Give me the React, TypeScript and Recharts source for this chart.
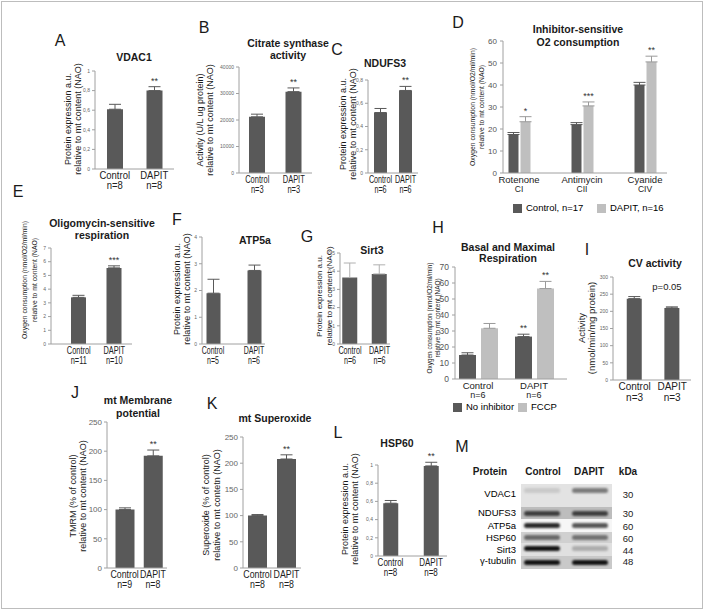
import React from 'react'
import { BarChart, Bar, XAxis, YAxis, ErrorBar, LabelList } from 'recharts'

const FONT = '"Liberation Sans", Arial, sans-serif'
const DARK = '#595959'
const LIGHT = '#bfbfbf'
const AXIS = '#a0a0a0'

const groups = ['Control', 'DAPIT']

// A - VDAC1
const vdacN = ['n=8', 'n=8']
const vdacMean = [0.61, 0.8]
const vdacErr = [0.05, 0.04]
const vdacSig = ['', '**']
// B - citrate synthase
const csN = ['n=3', 'n=3']
const csMean = [21200, 30700]
const csErr = [1000, 1400]
const csSig = ['', '**']
// C - NDUFS3
const ndN = ['n=6', 'n=6']
const ndMean = [0.52, 0.71]
const ndErr = [0.035, 0.035]
const ndSig = ['', '**']
// D - inhibitor-sensitive O2 consumption
const inhCats = ['Rotenone', 'Antimycin', 'Cyanide']
const inhSub = ['CI', 'CII', 'CIV']
const inhCtrl = [17.5, 22, 40]
const inhCtrlErr = [0.9, 0.9, 1.2]
const inhDapit = [23.3, 30.5, 50.5]
const inhDapitErr = [2.3, 1.8, 2.6]
const inhSig = ['*', '***', '**']
const inhLegend = ['Control, n=17', 'DAPIT, n=16']
// E - oligomycin-sensitive respiration
const oligoN = ['n=11', 'n=10']
const oligoMean = [3.4, 5.55]
const oligoErr = [0.15, 0.15]
const oligoSig = ['', '***']
// F - ATP5a
const atpN = ['n=5', 'n=6']
const atpMean = [1.9, 2.75]
const atpErr = [0.52, 0.2]
// G - Sirt3
const sirtN = ['n=6', 'n=6']
const sirtMean = [0.365, 0.385]
const sirtErr = [0.08, 0.05]
// H - basal and maximal respiration
const resN = ['n=6', 'n=6']
const resBasal = [15, 26.5]
const resBasalErr = [1.4, 1.5]
const resMax = [31.7, 56.5]
const resMaxErr = [3, 4.5]
const resBasalSig = ['', '**']
const resMaxSig = ['', '**']
const resLegend = ['No inhibitor', 'FCCP']
// I - CV activity
const cvN = ['n=3', 'n=3']
const cvMean = [237, 210]
const cvErr = [6, 3]
// J - TMRM
const tmrmN = ['n=9', 'n=8']
const tmrmMean = [100, 192]
const tmrmErr = [3, 10]
const tmrmSig = ['', '**']
// K - superoxide
const soxN = ['n=8', 'n=8']
const soxMean = [100, 208]
const soxErr = [2, 8]
const soxSig = ['', '**']
// L - HSP60
const hspN = ['n=8', 'n=8']
const hspMean = [0.58, 0.99]
const hspErr = [0.03, 0.04]
const hspSig = ['', '**']
// M - western blot
const blotProteins = ['VDAC1', 'NDUFS3', 'ATP5a', 'HSP60', 'Sirt3', 'γ-tubulin']
const blotKda = ['30', '30', '60', '60', '44', '48']
const blotCtrl = [0.12, 0.75, 0.9, 0.55, 1, 1]
const blotDapit = [0.5, 0.75, 0.7, 0.5, 0.25, 1]

// blot layout
const blotRowTop = [484, 507, 519, 532, 543, 556]
const blotRowH = [23, 12, 13, 11, 13, 13]
const blotRowBg = ['#e3e3e3', '#bdbdbd', '#f6f6f6', '#d0d0d0', '#e0e0e0', '#c9c9c9']
const blotBandY = [490, 513, 525, 537, 548, 562]
const blotLabelY = [494, 513, 526, 538, 550, 561]

const rng = (a: number, b: number, s: number) => {
  const out: number[] = []
  for (let v = a; v <= b + 1e-9; v += s) out.push(+v.toFixed(4))
  return out
}
const comma = (v: number) => (Number.isInteger(v) ? String(v) : v.toFixed(1).replace('.', ','))

type Row = { label: string; v: number; e: [number, number]; sig: string }
const mk = (ns: string[], mean: number[], err: number[], sig?: string[]): Row[] =>
  groups.map((g, i) => ({ label: `${g}\n${ns[i]}`, v: mean[i], e: [0, err[i]], sig: sig ? sig[i] : '' }))

// two-line category label, squeezed horizontally where the panel is narrow
// eslint-disable-next-line @typescript-eslint/no-explicit-any
const CatTick = ({ x, y, payload, fs = 9.5, fs2, sx = 1 }: any) => {
  const [a, b] = String(payload.value).split('\n')
  const f2 = fs2 ?? fs
  return (
    <g transform={`translate(${x},${y}) scale(${sx},1)`}>
      <text x={0} y={fs * 0.8} textAnchor="middle" fontSize={fs} fill="#222">{a}</text>
      <text x={0} y={fs * 0.8 + f2 * 1.05} textAnchor="middle" fontSize={f2} fill="#222">{b}</text>
    </g>
  )
}

// eslint-disable-next-line @typescript-eslint/no-explicit-any
const stars = (rows: any[], vKey: string, eKey: string, sKey: string) => (p: any) => {
  const r = rows[p.index]
  if (!r || !r[sKey]) return null
  const vb = p.viewBox ?? p
  const x = vb.x ?? p.x
  const y = vb.y ?? p.y
  const w = vb.width ?? p.width
  const h = vb.height ?? p.height
  const pxu = h / r[vKey]
  const top = y - r[eKey][1] * pxu
  return (
    <text x={x + w / 2} y={top - 3} textAnchor="middle" fontSize={9} fill="#333">{r[sKey]}</text>
  )
}

type PanelProps = {
  data: Row[]
  x0: number; x1: number; y0: number; y1: number
  padL?: number; padR?: number
  ticks: number[]
  fmt?: (v: number) => string
  tickFs: number
  barSize: number
  errColor?: string
  catFs?: number
  sx?: number
}

function Panel({ data, x0, x1, y0, y1, padL = 0, padR = 0, ticks, fmt, tickFs, barSize, errColor = DARK, catFs = 10, sx = 1 }: PanelProps) {
  const yW = 40, mTop = 24, xH = 30, mR = 2
  const W = yW + (x1 - x0) + mR
  const H = mTop + (y1 - y0) + xH
  return (
    <div style={{ position: 'absolute', left: x0 - yW, top: y0 - mTop }}>
      <BarChart width={W} height={H} data={data} margin={{ top: mTop, right: mR, bottom: 0, left: 0 }}>
        <XAxis dataKey="label" padding={{ left: padL, right: padR }} height={xH} tickLine={false}
          tickSize={0} tickMargin={2} axisLine={{ stroke: AXIS }} tick={<CatTick fs={catFs} sx={sx} />} interval={0} />
        <YAxis width={yW} domain={[ticks[0], ticks[ticks.length - 1]]} ticks={ticks} tickFormatter={fmt}
          allowDataOverflow interval={0} tickSize={3} tickMargin={2}
          tick={{ fontSize: tickFs, fill: '#666' }} axisLine={{ stroke: AXIS }} tickLine={{ stroke: AXIS }} />
        <Bar dataKey="v" fill={DARK} barSize={barSize} isAnimationActive={false}>
          <ErrorBar dataKey="e" width={6} stroke={errColor} strokeWidth={1} direction="y" />
          <LabelList dataKey="sig" content={stars(data, 'v', 'e', 'sig')} />
        </Bar>
      </BarChart>
    </div>
  )
}

const inhData = inhCats.map((c, i) => ({
  label: `${c}\n${inhSub[i]}`,
  c: inhCtrl[i], ce: [0, inhCtrlErr[i]], cs: '',
  d: inhDapit[i], de: [0, inhDapitErr[i]], ds: inhSig[i],
}))

const resData = groups.map((g, i) => ({
  label: `${g}\n${resN[i]}`,
  c: resBasal[i], ce: [0, resBasalErr[i]], cs: resBasalSig[i],
  d: resMax[i], de: [0, resMaxErr[i]], ds: resMaxSig[i],
}))

type GroupProps = {
  // eslint-disable-next-line @typescript-eslint/no-explicit-any
  data: any[]
  x0: number; x1: number; y0: number; y1: number
  padL: number; padR: number
  ticks: number[]
  tickFs: number
  barSize: number
  barGap: number
  catFs: number
  catFs2: number
}

function GroupPanel({ data, x0, x1, y0, y1, padL, padR, ticks, tickFs, barSize, barGap, catFs, catFs2 }: GroupProps) {
  const yW = 40, mTop = 24, xH = 30, mR = 2
  const W = yW + (x1 - x0) + mR
  const H = mTop + (y1 - y0) + xH
  return (
    <div style={{ position: 'absolute', left: x0 - yW, top: y0 - mTop }}>
      <BarChart width={W} height={H} data={data} barGap={barGap} margin={{ top: mTop, right: mR, bottom: 0, left: 0 }}>
        <XAxis dataKey="label" padding={{ left: padL, right: padR }} height={xH} tickLine={false}
          tickSize={0} tickMargin={2} axisLine={{ stroke: AXIS }} tick={<CatTick fs={catFs} fs2={catFs2} />} interval={0} />
        <YAxis width={yW} domain={[ticks[0], ticks[ticks.length - 1]]} ticks={ticks}
          allowDataOverflow interval={0} tickSize={3} tickMargin={3}
          tick={{ fontSize: tickFs, fill: '#555' }} axisLine={{ stroke: AXIS }} tickLine={{ stroke: AXIS }} />
        <Bar dataKey="c" fill={DARK} barSize={barSize} isAnimationActive={false}>
          <ErrorBar dataKey="ce" width={6} stroke={DARK} strokeWidth={1} direction="y" />
          <LabelList dataKey="cs" content={stars(data, 'c', 'ce', 'cs')} />
        </Bar>
        <Bar dataKey="d" fill={LIGHT} barSize={barSize} isAnimationActive={false}>
          <ErrorBar dataKey="de" width={6} stroke="#9a9a9a" strokeWidth={1} direction="y" />
          <LabelList dataKey="ds" content={stars(data, 'd', 'de', 'ds')} />
        </Bar>
      </BarChart>
    </div>
  )
}

type TProps = { x: number; y: number; lines: string[]; fs?: number; lh?: number; bold?: boolean; rot?: boolean }
function T({ x, y, lines, fs = 9, lh, bold = false, rot = false }: TProps) {
  return (
    <div style={{
      position: 'absolute', left: x, top: y, whiteSpace: 'nowrap', textAlign: 'center',
      transform: `translate(-50%,-50%)${rot ? ' rotate(-90deg)' : ''}`,
      fontSize: fs, lineHeight: `${lh ?? fs * 1.15}px`, fontWeight: bold ? 700 : 400, color: '#1a1a1a',
    }}>
      {lines.map((l, i) => <div key={i}>{l}</div>)}
    </div>
  )
}

const protLbl = ['Protein expression a.u.', 'relative to mt content (NAO)']
const oxyLbl = ['Oxygen consumption (nmol/O2/ml/min)', 'relative to mt content (NAO)']

function Legend2({ x, y, names, gap }: { x: number; y: number; names: string[]; gap: number }) {
  return (
    <>
      {names.map((n, i) => (
        <div key={n} style={{ position: 'absolute', left: x + i * gap, top: y - 5, display: 'flex', alignItems: 'center', fontSize: 9.5, lineHeight: '10px' }}>
          <div style={{ width: 9, height: 9, background: i === 0 ? DARK : LIGHT, marginRight: 4 }} />
          <span>{n}</span>
        </div>
      ))}
    </>
  )
}

function Blot() {
  return (
    <>
      <T x={490} y={472} lines={['Protein']} fs={10} bold />
      <T x={543} y={472} lines={['Control']} fs={10} bold />
      <T x={589} y={472} lines={['DAPIT']} fs={10} bold />
      <T x={628} y={472} lines={['kDa']} fs={10} bold />
      {blotProteins.map((p, i) => (
        <React.Fragment key={p}>
          <div style={{ position: 'absolute', left: 521, top: blotRowTop[i], width: 91, height: blotRowH[i], background: blotRowBg[i] }} />
          {[blotCtrl[i], blotDapit[i]].map((a, j) => (
            <div key={j} style={{
              position: 'absolute', left: j === 0 ? 524 : 572, top: blotBandY[i] - 2.5, width: 36, height: 5,
              borderRadius: 3, background: `rgba(20,20,20,${a})`, filter: 'blur(1px)',
            }} />
          ))}
          <div style={{ position: 'absolute', right: 706 - 516, top: blotLabelY[i] - 6, fontSize: 9.5, lineHeight: '12px', whiteSpace: 'nowrap' }}>{p}</div>
          <T x={628} y={blotLabelY[i] + 1} lines={[blotKda[i]]} fs={9.5} />
        </React.Fragment>
      ))}
    </>
  )
}

export default function App() {
  return (
    <div style={{ position: 'absolute', left: 0, top: 0, width: 706, height: 610, background: '#fff', fontFamily: FONT, overflow: 'hidden' }}>
      <div style={{ position: 'absolute', left: 1, top: 1, width: 702, height: 608, boxSizing: 'border-box', border: '1.5px solid #bdbdbd' }} />

      <Panel data={mk(vdacN, vdacMean, vdacErr, vdacSig)} x0={95} x1={174} y0={71} y1={169}
        ticks={rng(0, 1, 0.2)} fmt={comma} tickFs={5} barSize={16} sx={0.95} />
      <Panel data={mk(csN, csMean, csErr, csSig)} x0={239} x1={312} y0={67} y1={173}
        ticks={rng(0, 40000, 10000)} tickFs={5} barSize={16} sx={0.75} />
      <Panel data={mk(ndN, ndMean, ndErr, ndSig)} x0={368} x1={418} y0={80} y1={173}
        ticks={rng(0, 0.8, 0.2)} fmt={comma} tickFs={5} barSize={13} sx={0.72} />
      <GroupPanel data={inhData} x0={503} x1={667} y0={41} y1={173} padL={-15.5} padR={-9.5}
        ticks={rng(0, 60, 10)} tickFs={8} barSize={10} barGap={2} catFs={9.5} catFs2={8.5} />
      <Panel data={mk(oligoN, oligoMean, oligoErr, oligoSig)} x0={51} x1={132} y0={248} y1={344} padL={10}
        ticks={rng(0, 7, 1)} tickFs={5} barSize={15} sx={0.74} />
      <Panel data={mk(atpN, atpMean, atpErr)} x0={202} x1={265} y0={237} y1={344} padL={-9.5} padR={-9.5}
        ticks={rng(0, 4, 1)} tickFs={5} barSize={14} sx={0.7} />
      <Panel data={mk(sirtN, sirtMean, sirtErr)} x0={340} x1={390} y0={253} y1={344} padL={-4.75} padR={-4.25}
        ticks={rng(0, 0.5, 0.1)} fmt={comma} tickFs={5} barSize={15} errColor="#b0b0b0" sx={0.72} />
      <GroupPanel data={resData} x0={455} x1={567} y0={267} y1={379} padL={-5} padR={5}
        ticks={rng(0, 70, 10)} tickFs={8.5} barSize={17} barGap={5} catFs={9.5} catFs2={9} />
      <Panel data={mk(cvN, cvMean, cvErr)} x0={613} x1={691} y0={277} y1={380} padL={2.75}
        ticks={rng(0, 300, 50)} tickFs={5} barSize={15} />
      <Panel data={mk(tmrmN, tmrmMean, tmrmErr, tmrmSig)} x0={107} x1={167} y0={422} y1={568} padL={3.5}
        ticks={rng(0, 250, 50)} tickFs={8} barSize={19} sx={0.88} />
      <Panel data={mk(soxN, soxMean, soxErr, soxSig)} x0={243} x1={301} y0={437} y1={568}
        ticks={rng(0, 250, 50)} tickFs={8} barSize={19} sx={0.88} />
      <Panel data={mk(hspN, hspMean, hspErr, hspSig)} x0={378} x1={447} y0={465} y1={556} padL={-7.75} padR={-4.25}
        ticks={rng(0, 1, 0.2)} fmt={comma} tickFs={5} barSize={15} sx={0.8} />

      {/* panel letters */}
      <T x={60} y={41} lines={['A']} fs={16} />
      <T x={204} y={28} lines={['B']} fs={16} />
      <T x={337} y={50} lines={['C']} fs={16} />
      <T x={458} y={23} lines={['D']} fs={16} />
      <T x={18} y={192} lines={['E']} fs={16} />
      <T x={177} y={220} lines={['F']} fs={16} />
      <T x={307} y={237} lines={['G']} fs={16} />
      <T x={438} y={228} lines={['H']} fs={16} />
      <T x={587} y={250} lines={['I']} fs={16} />
      <T x={75} y={393} lines={['J']} fs={16} />
      <T x={212} y={404} lines={['K']} fs={16} />
      <T x={338} y={433} lines={['L']} fs={16} />
      <T x={462} y={447} lines={['M']} fs={16} />

      {/* titles */}
      <T x={134} y={57} lines={['VDAC1']} fs={10.5} bold />
      <T x={288} y={49} lines={['Citrate synthase', 'activity']} fs={10.5} lh={12} bold />
      <T x={385} y={63} lines={['NDUFS3']} fs={10.5} bold />
      <T x={578} y={35.5} lines={['Inhibitor-sensitive', 'O2 consumption']} fs={10.5} lh={13} bold />
      <T x={102} y={229} lines={['Oligomycin-sensitive', 'respiration']} fs={10.5} lh={12} bold />
      <T x={255} y={240} lines={['ATP5a']} fs={10.5} bold />
      <T x={372} y={250} lines={['Sirt3']} fs={10.5} bold />
      <T x={508} y={252.5} lines={['Basal and Maximal', 'Respiration']} fs={10.5} lh={11.5} bold />
      <T x={655} y={263} lines={['CV activity']} fs={10.5} bold />
      <T x={138} y={406.5} lines={['mt Membrane', 'potential']} fs={10.5} lh={13} bold />
      <T x={275} y={418} lines={['mt Superoxide']} fs={10.5} bold />
      <T x={397} y={443} lines={['HSP60']} fs={10.5} bold />

      {/* axis titles */}
      <T x={73} y={119} lines={protLbl} fs={9} lh={10} rot />
      <T x={205} y={120} lines={['Activity (U/L ug protein)', 'relative to mt content (NAO)']} fs={9} lh={10} rot />
      <T x={348} y={124} lines={protLbl} fs={9} lh={10} rot />
      <T x={477} y={107} lines={oxyLbl} fs={6.8} lh={9} rot />
      <T x={30} y={280} lines={oxyLbl} fs={6.8} lh={10} rot />
      <T x={182} y={289} lines={protLbl} fs={9} lh={10} rot />
      <T x={325} y={296} lines={protLbl} fs={8} lh={10} rot />
      <T x={434} y={318} lines={oxyLbl} fs={6.4} lh={8} rot />
      <T x={587} y={328} lines={['Activity', '(nmol/min/mg protein)']} fs={9.5} lh={10} rot />
      <T x={78} y={496} lines={['TMRM (% of control)', 'relative to mt content (NAO)']} fs={9} lh={10} rot />
      <T x={212} y={505} lines={['Superoxide (% of control)', 'relative to mt contetn (NAO)']} fs={9} lh={11} rot />
      <T x={350} y={509} lines={protLbl} fs={9} lh={10} rot />

      <T x={667} y={287} lines={['p=0.05']} fs={9.5} />

      <Legend2 x={513} y={208} names={inhLegend} gap={84} />
      <Legend2 x={453} y={407} names={resLegend} gap={65} />

      <Blot />
    </div>
  )
}
